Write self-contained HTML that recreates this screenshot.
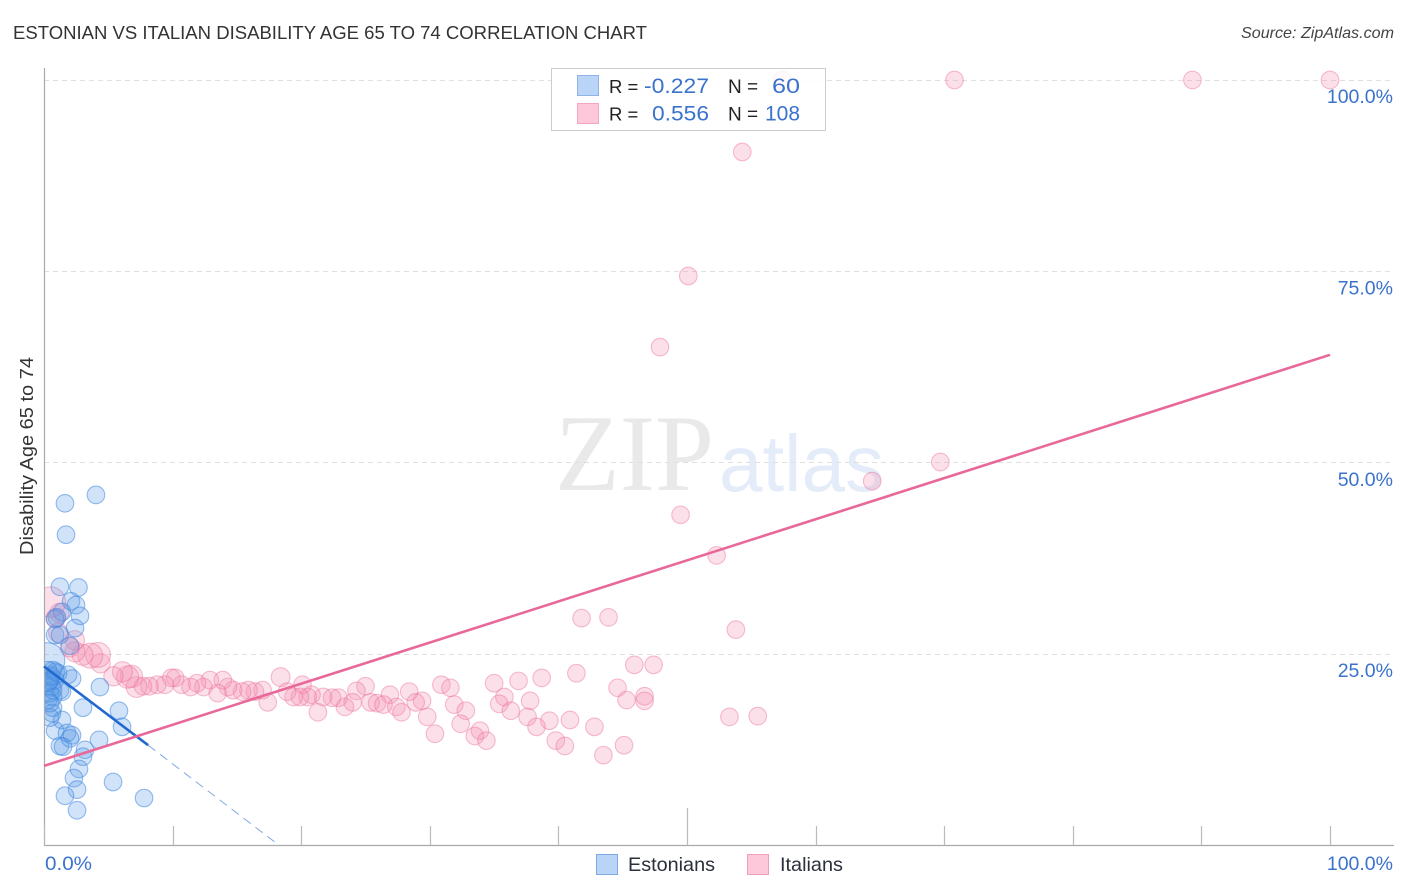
<!DOCTYPE html>
<html lang="en">
<head>
<meta charset="utf-8">
<title>Estonian vs Italian Disability Age 65 to 74 Correlation Chart</title>
<style>
html,body{margin:0;padding:0;background:#fff;width:1406px;height:892px;overflow:hidden}
svg{display:block;font-family:"Liberation Sans",sans-serif}
</style>
</head>
<body>
<svg id="chart" xmlns="http://www.w3.org/2000/svg" width="1406" height="892" viewBox="0 0 1406 892">
  <defs>
    <clipPath id="plot-clip"><rect x="45" y="60" width="1349" height="785"/></clipPath>
  </defs>
  <text x="13" y="39" font-size="18.5" fill="#333" textLength="634" lengthAdjust="spacingAndGlyphs">ESTONIAN VS ITALIAN DISABILITY AGE 65 TO 74 CORRELATION CHART</text>
  <text x="1394" y="38" font-size="16" font-style="italic" fill="#444" text-anchor="end" textLength="153" lengthAdjust="spacingAndGlyphs">Source: ZipAtlas.com</text>
  <g>
    <text x="555" y="490" font-family="'Liberation Serif',serif" font-size="109" fill="#e9e9e9" textLength="159" lengthAdjust="spacingAndGlyphs">ZIP</text>
    <text x="719" y="491" font-size="80" fill="#e4ecf9" textLength="165" lengthAdjust="spacingAndGlyphs">atlas</text>
  </g>
  <g id="grid"></g>
  <g id="axes">
    <line x1="44.5" y1="68" x2="44.5" y2="846" stroke="#aaa" stroke-width="1.2"/>
    <line x1="44" y1="845.5" x2="1394" y2="845.5" stroke="#aaa" stroke-width="1.2"/>
  </g>
  <g id="x-ticks"></g>
  <g id="y-labels"></g>
  <g id="x-labels"></g>
  <text transform="translate(33,456) rotate(-90)" font-size="18.5" fill="#333" text-anchor="middle" textLength="198" lengthAdjust="spacingAndGlyphs">Disability Age 65 to 74</text>
  <g id="points" clip-path="url(#plot-clip)"></g>
  <g id="trends"></g>

  <g>
    <rect x="551.5" y="68.5" width="274" height="62" fill="#fff" fill-opacity="0.85" stroke="#ccc" stroke-width="1"/>
    <rect x="577.5" y="75.5" width="21" height="20" fill="#b9d4f6" stroke="#8fb4e8" stroke-width="1"/>
    <rect x="577.5" y="103.5" width="21" height="20" fill="#fcc8da" stroke="#f3a6c0" stroke-width="1"/>
    <text x="609" y="93" font-size="18.5" fill="#222">R =</text>
    <text x="709" y="93" font-size="21.5" fill="#3a72cc" text-anchor="end" textLength="65" lengthAdjust="spacingAndGlyphs">-0.227</text>
    <text x="728" y="93" font-size="19" fill="#222">N =</text>
    <text x="800" y="93" font-size="21.5" fill="#3a72cc" text-anchor="end" textLength="28" lengthAdjust="spacingAndGlyphs">60</text>
    <text x="609" y="120.5" font-size="18.5" fill="#222">R =</text>
    <text x="709" y="120.5" font-size="21.5" fill="#3a72cc" text-anchor="end" textLength="57" lengthAdjust="spacingAndGlyphs">0.556</text>
    <text x="728" y="120.5" font-size="19" fill="#222">N =</text>
    <text x="800" y="120.5" font-size="21.5" fill="#3a72cc" text-anchor="end" textLength="35" lengthAdjust="spacingAndGlyphs">108</text>
  </g>

  <g>
    <rect x="596.5" y="854.5" width="21" height="20" fill="#b9d4f6" stroke="#7ea9e4" stroke-width="1"/>
    <text x="628" y="871" font-size="19.5" fill="#2a2f3a" textLength="87" lengthAdjust="spacingAndGlyphs">Estonians</text>
    <rect x="747.5" y="854.5" width="21" height="20" fill="#fcc8da" stroke="#f0a0bc" stroke-width="1"/>
    <text x="780" y="871" font-size="19.5" fill="#2a2f3a" textLength="63" lengthAdjust="spacingAndGlyphs">Italians</text>
  </g>
</svg>
<script>
const xTickValues = [0,10,20,30,40,50,60,70,80,90,100];
const yGridValues = [25,50,75,100];
const yTickLabels = ['25.0%','50.0%','75.0%','100.0%'];
const xEndLabels = ['0.0%','100.0%'];

const estonianX = [4.04,1.63,1.71,1.24,2.68,2.1,2.49,2.8,1.4,1.0,0.86,2.41,0.86,1.24,2.02,0.25,1.87,2.18,4.35,3.03,5.83,6.07,4.28,3.19,3.03,2.72,2.33,2.57,1.63,2.57,5.37,7.78,1.4,0.86,1.79,2.18,2.02,1.24,1.48,0.62,0.7,0.47,1.24,0.7,0.47,0.62,0.86,0.31,0.47,1.09,0.7,0.31,1.4,0.31,0.7,0.47,0.47,0.55,0.9,0.35];
const estonianY = [45.8,44.7,40.6,33.8,33.7,31.9,31.4,30.0,30.5,29.8,29.6,28.4,27.5,27.5,26.1,24.2,22.3,21.8,20.7,18.0,17.6,15.5,13.8,12.5,11.6,10.0,8.8,7.3,6.5,4.6,8.3,6.2,16.4,15.0,14.7,14.4,14.0,13.0,12.9,17.3,18.0,16.7,20.3,19.4,19.9,20.7,21.6,21.2,22.0,22.5,22.9,22.9,20.1,19.0,20.3,18.6,21.6,22.2,22.7,21.4];
const estonianWeight = [1,1,1,1,1,1,1,1,1,1,1,1,1,1,1,4,1,1,1,1,1,1,1,1,1,1,1,1,1,1,1,1,1,1,1,1,1,1,1,1,1,1,1,1,1,1,1,1,1,1,1,1,1,1,1,1,1,1,1,1];

const italianX = [70.8,89.3,100,57.4,54.3,50.1,47.9,69.7,64.4,49.5,52.3,41.8,43.9,53.8,47.4,45.9,41.4,38.7,36.9,35.0,44.6,46.7,46.7,45.3,53.3,55.5,35.8,35.4,37.8,36.3,37.6,39.3,40.9,42.8,38.3,39.8,40.5,43.5,45.1,30.9,31.6,31.9,32.8,32.4,33.9,33.5,34.4,29.8,30.4,28.4,29.4,28.9,26.9,25.0,24.3,24.0,23.4,25.4,25.9,26.4,27.4,27.8,22.9,22.4,21.7,21.3,20.8,20.5,20.1,19.9,19.4,18.9,18.4,17.4,17.0,16.4,15.9,15.4,14.7,14.3,13.9,13.5,12.9,12.4,11.9,11.4,10.7,10.2,9.9,9.4,8.8,8.2,7.7,7.2,6.8,6.5,6.1,5.4,4.4,4.2,3.6,3.0,2.4,2.4,2.0,1.1,0.9,1.2,0.5];
const italianY = [100,100,100,100,90.6,74.4,65.1,50.1,47.6,43.2,37.9,29.7,29.8,28.2,23.6,23.6,22.5,21.9,21.5,21.2,20.6,19.5,18.9,19.0,16.8,16.9,19.4,18.5,18.9,17.6,16.8,16.3,16.4,15.5,15.5,13.7,13.0,11.8,13.1,21.0,20.6,18.4,17.6,15.9,15.0,14.3,13.7,16.8,14.6,20.1,18.9,18.7,19.7,20.8,20.2,18.7,18.1,18.7,18.6,18.4,18.1,17.4,19.3,19.3,19.4,17.4,19.7,19.4,21.0,19.4,19.4,20.1,22.0,18.7,20.3,20.1,20.3,20.1,20.3,20.7,21.6,19.9,21.6,20.7,21.2,20.7,21.0,21.9,21.9,21.0,21.0,20.8,20.8,20.7,22.1,22.0,22.7,22.1,23.8,24.9,24.8,24.9,25.3,26.8,25.9,27.8,29.7,30.4,31.8];
const italianWeight = [1,1,1,1,1,1,1,1,1,1,1,1,1,1,1,1,1,1,1,1,1,1,1,1,1,1,1,1,1,1,1,1,1,1,1,1,1,1,1,1,1,1,1,1,1,1,1,1,1,1,1,1,1,1,1,1,1,1,1,1,1,1,1,1,1,1,1,1,1,1,1,1,1.15,1,1,1,1,1,1,1,1,1,1,1,1,1,1,1,1,1,1,1,1,1.4,1.6,1.6,1.3,1.2,1.2,2,2,1.4,1.3,1.2,1.2,1.2,1.2,1.2,3];

const estonianTrendX = [0,8.1];
const estonianTrendY = [23.4,13.1];
const estonianDashX = [8.1,18.3];
const estonianDashY = [13.1,0];
const italianTrendX = [0,100];
const italianTrendY = [10.4,64.1];

function xScale(v){ return 44 + v * 12.86; }
function yScale(v){ return 845.5 - v * 7.655; }

const NS = 'http://www.w3.org/2000/svg';
function make(parent, tag, attrs){
  const el = document.createElementNS(NS, tag);
  for (const k in attrs) el.setAttribute(k, attrs[k]);
  document.getElementById(parent).appendChild(el);
  return el;
}

yGridValues.forEach(function(v, i){
  const yp = yScale(v);
  const gy = Math.floor(yp) + 0.5;
  const g = make('grid', 'line', {x1:44, x2:1394, y1:gy, y2:gy, stroke:'#e0e0e0', 'stroke-width':1, 'stroke-dasharray':'5 4'});
  
  
  const t = make('y-labels', 'text', {x:1393, y:yp + 23, 'font-size':19.5, fill:'#3a72cc', 'text-anchor':'end'});
  t.textContent = yTickLabels[i];
  
  
});

xTickValues.forEach(function(v){
  const xp = Math.round(xScale(v)) + 0.5;
  const tick = make('x-ticks', 'line', {x1:xp, x2:xp, y1:(v === 50 ? 808 : 826), y2:845, stroke:'#bbb', 'stroke-width':1.2});
  
  
});

const x0Label = make('x-labels', 'text', {x:45, y:870, 'font-size':19.5, fill:'#3a72cc', textLength:47, lengthAdjust:'spacingAndGlyphs'});
x0Label.textContent = xEndLabels[0];


const x100Label = make('x-labels', 'text', {x:1393, y:870, 'font-size':19.5, fill:'#3a72cc', 'text-anchor':'end'});
x100Label.textContent = xEndLabels[1];



function radius(w){ return 8.8 * Math.sqrt(w); }

italianX.forEach(function(v, i){
  const c = make('points', 'circle', {cx:xScale(v), cy:yScale(italianY[i]), r:radius(italianWeight[i]), fill:'#f48fb1', 'fill-opacity':0.28, stroke:'#ec6f9c', 'stroke-opacity':0.45, 'stroke-width':1.1});
  
  
});
estonianX.forEach(function(v, i){
  const c = make('points', 'circle', {cx:xScale(v), cy:yScale(estonianY[i]), r:radius(estonianWeight[i]), fill:'#5a9ae6', 'fill-opacity':0.28, stroke:'#3f87e0', 'stroke-opacity':0.55, 'stroke-width':1.1});
  
  
});

const estonianDash = make('trends', 'line', {x1:xScale(estonianDashX[0]), y1:yScale(estonianDashY[0]), x2:xScale(estonianDashX[1]), y2:yScale(estonianDashY[1]), stroke:'#2f6fd0', 'stroke-width':1, 'stroke-opacity':0.6, 'stroke-dasharray':'9 6'});


const estonianTrend = make('trends', 'line', {x1:xScale(estonianTrendX[0]), y1:yScale(estonianTrendY[0]), x2:xScale(estonianTrendX[1]), y2:yScale(estonianTrendY[1]), stroke:'#2269cf', 'stroke-width':2.6});


const italianTrend = make('trends', 'line', {x1:xScale(italianTrendX[0]), y1:yScale(italianTrendY[0]), x2:xScale(italianTrendX[1]), y2:yScale(italianTrendY[1]), stroke:'#e9689a', 'stroke-width':2.6});


</script>
</body>
</html>
